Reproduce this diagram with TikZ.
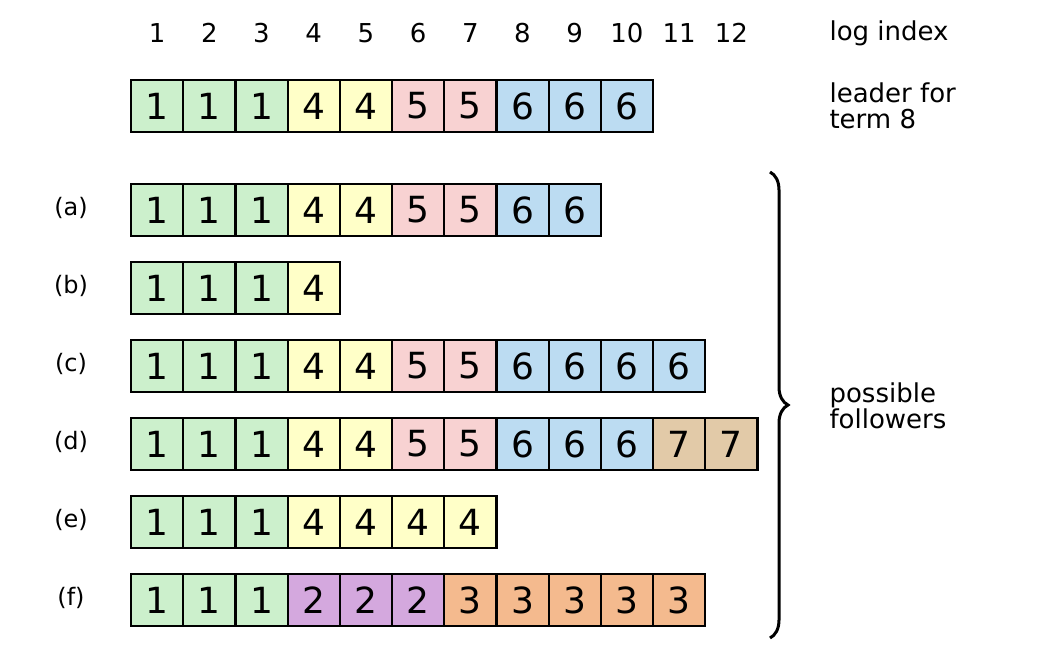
\documentclass[tikz,border=0pt]{standalone}
\usepackage{fontspec}
\setmainfont{DejaVu Sans}
\usetikzlibrary{decorations.pathreplacing}
\definecolor{cg}{HTML}{CCF0CC}
\definecolor{cy}{HTML}{FFFFC8}
\definecolor{cp}{HTML}{F8D2D2}
\definecolor{cb}{HTML}{BCDCF2}
\definecolor{ct}{HTML}{E2CAA8}
\definecolor{cv}{HTML}{D4A8DE}
\definecolor{co}{HTML}{F4BA8E}
\tikzset{cell/.style={draw=black,line width=2.2pt,minimum width=52.2pt,minimum height=52pt,inner sep=0pt,font=\fontsize{36}{40}\selectfont},
lab/.style={font=\fontsize{26}{30}\selectfont,anchor=west,align=left},
rowlab/.style={font=\fontsize{24}{28}\selectfont}}
\newcommand{\logrow}[3]{% name, center y, list
  \foreach \t [count=\i] in {#3}{%
    \ifnum\t=1 \def\cc{cg}\fi \ifnum\t=4 \def\cc{cy}\fi \ifnum\t=5 \def\cc{cp}\fi
    \ifnum\t=6 \def\cc{cb}\fi \ifnum\t=7 \def\cc{ct}\fi \ifnum\t=2 \def\cc{cv}\fi \ifnum\t=3 \def\cc{co}\fi
    \node[cell,fill=\cc] (#1\i) at ({131+26.1+52.2*(\i-1)},#2) {\t};}}
\begin{document}
\begin{tikzpicture}[x=1pt,y=-1pt]
\useasboundingbox (0,0) rectangle (1048,648);
\foreach \i in {1,...,12}{\node[font=\fontsize{26}{30}\selectfont] (n\i) at ({131+26.1+52.2*(\i-1)},33) {\i};}
\node[lab] (li) at (826,33) {log index};
\node[lab] (lf) at (826,106) {leader for\\[-4pt]term 8};
\logrow{L}{106}{1,1,1,4,4,5,5,6,6,6}
\logrow{a}{210}{1,1,1,4,4,5,5,6,6}
\logrow{b}{288}{1,1,1,4}
\logrow{c}{366}{1,1,1,4,4,5,5,6,6,6,6}
\logrow{d}{444}{1,1,1,4,4,5,5,6,6,6,7,7}
\logrow{e}{522}{1,1,1,4,4,4,4}
\logrow{f}{600}{1,1,1,2,2,2,3,3,3,3,3}
\node[rowlab] (la) at (71,208) {(a)};
\node[rowlab] (lb) at (71,286) {(b)};
\node[rowlab] (lc) at (71,364) {(c)};
\node[rowlab] (ld) at (71,442) {(d)};
\node[rowlab] (le) at (71,520) {(e)};
\node[rowlab] (lff) at (71,598) {(f)};
\coordinate (bt) at (770,172);
\coordinate (bb) at (770,638);
\draw[line width=3pt,decorate,decoration={brace,amplitude=18pt,raise=0pt}] (bt) -- (bb);
\node[lab] (pf) at (826,406) {possible\\[-4pt]followers};
\end{tikzpicture}
\end{document}
